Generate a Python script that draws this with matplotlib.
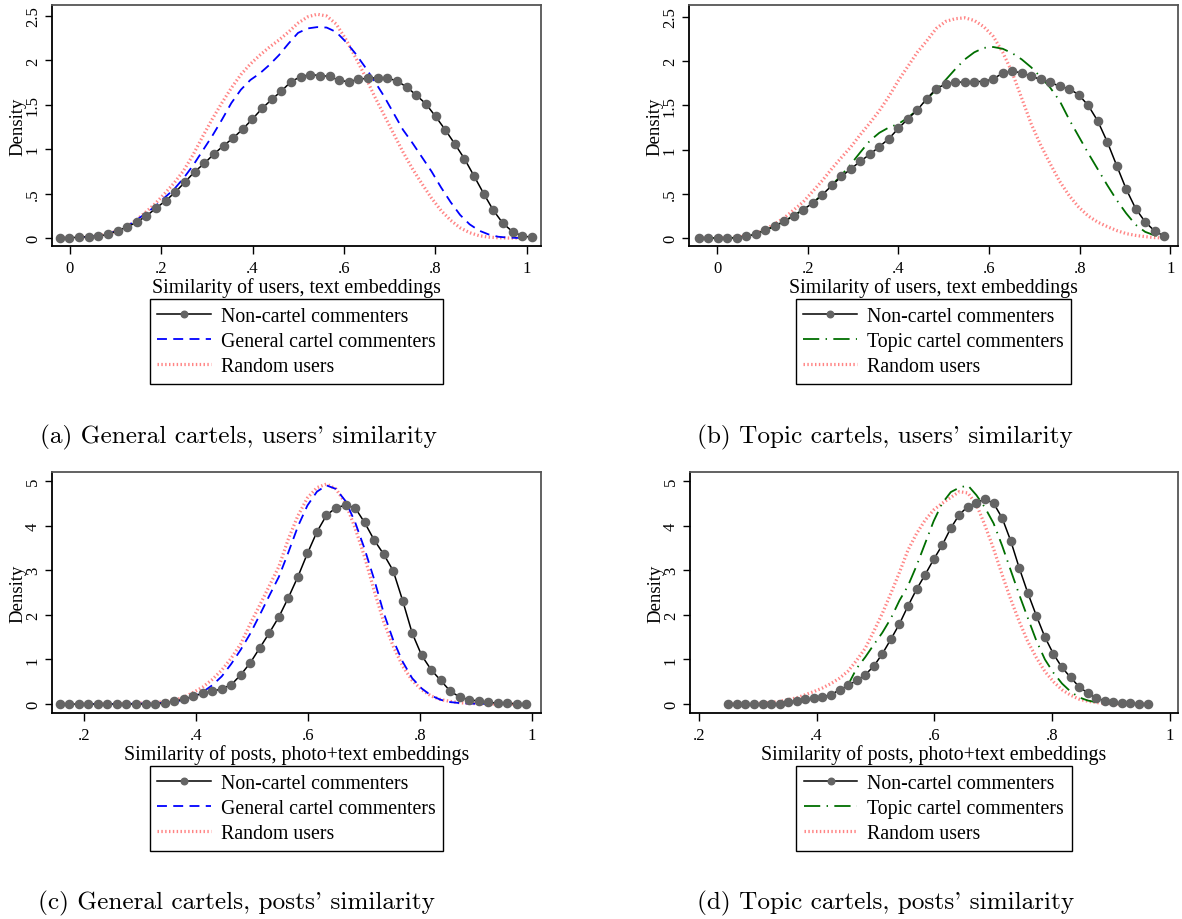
import numpy as np
import matplotlib
matplotlib.use("Agg")
import matplotlib.pyplot as plt

plt.rcParams['font.family'] = ['Liberation Serif', 'DejaVu Serif']

# kernel density values, 50 evaluation points each
a_x_non = (-0.022, 1.011)
a_x_oth = (-0.022, 1.0)
a_noncartel = [0, 0.004, 0.008, 0.015, 0.023, 0.04, 0.083, 0.124, 0.18, 0.248,
               0.338, 0.42, 0.518, 0.63, 0.747, 0.84, 0.946, 1.04, 1.126, 1.228,
               1.34, 1.46, 1.56, 1.655, 1.76, 1.817, 1.84, 1.83, 1.82, 1.775,
               1.76, 1.787, 1.80, 1.805, 1.80, 1.77, 1.70, 1.61, 1.51, 1.37,
               1.22, 1.06, 0.893, 0.698, 0.50, 0.312, 0.165, 0.071, 0.023, 0.008]
a_general = [0, 0.003, 0.008, 0.015, 0.025, 0.045, 0.08, 0.125, 0.2, 0.275,
             0.355, 0.455, 0.55, 0.675, 0.82, 0.985, 1.15, 1.33, 1.52, 1.67,
             1.78, 1.855, 1.95, 2.06, 2.19, 2.31, 2.36, 2.375, 2.37, 2.32,
             2.21, 2.08, 1.93, 1.77, 1.60, 1.41, 1.22, 1.07, 0.91, 0.75,
             0.57, 0.405, 0.26, 0.154, 0.083, 0.04, 0.014, 0.005, 0.001, 0]
a_random = [0, 0.003, 0.008, 0.015, 0.025, 0.045, 0.08, 0.125, 0.2, 0.29,
            0.385, 0.50, 0.62, 0.76, 0.94, 1.145, 1.34, 1.52, 1.69, 1.84,
            1.96, 2.06, 2.15, 2.23, 2.32, 2.42, 2.49, 2.52, 2.50, 2.41,
            2.24, 2.04, 1.83, 1.60, 1.39, 1.18, 0.97, 0.78, 0.61, 0.45,
            0.31, 0.20, 0.115, 0.06, 0.026, 0.01, 0.003, 0, 0, 0]

b_x = (-0.04, 0.986)
b_noncartel = [0, 0, 0, 0, 0.004, 0.019, 0.045, 0.09, 0.135, 0.19,
               0.254, 0.322, 0.397, 0.49, 0.595, 0.696, 0.782, 0.868, 0.947, 1.033,
               1.123, 1.239, 1.347, 1.448, 1.576, 1.688, 1.744, 1.763, 1.763, 1.77,
               1.77, 1.80, 1.864, 1.886, 1.868, 1.83, 1.793, 1.763, 1.714, 1.688,
               1.62, 1.50, 1.325, 1.09, 0.82, 0.554, 0.333, 0.183, 0.079, 0.022]
b_topic = [0, 0, 0, 0.001, 0.004, 0.019, 0.045, 0.09, 0.135, 0.19,
           0.254, 0.322, 0.40, 0.49, 0.60, 0.71, 0.835, 0.97, 1.10, 1.19,
           1.25, 1.29, 1.36, 1.45, 1.57, 1.68, 1.79, 1.91, 2.02, 2.10,
           2.15, 2.16, 2.14, 2.09, 2.02, 1.93, 1.82, 1.70, 1.55, 1.34,
           1.15, 0.96, 0.78, 0.60, 0.43, 0.28, 0.15, 0.07, 0.03, 0.012]
b_random = [0, 0, 0.002, 0.006, 0.012, 0.02, 0.045, 0.1, 0.16, 0.23,
            0.32, 0.41, 0.53, 0.65, 0.785, 0.91, 1.03, 1.17, 1.30, 1.44,
            1.60, 1.78, 1.94, 2.10, 2.23, 2.37, 2.45, 2.48, 2.49, 2.46,
            2.39, 2.28, 2.10, 1.87, 1.58, 1.29, 1.05, 0.84, 0.64, 0.48,
            0.35, 0.25, 0.18, 0.13, 0.085, 0.05, 0.03, 0.016, 0.005, 0]

c_x = (0.157, 0.99)
c_noncartel = [0, 0, 0, 0, 0, 0, 0, 0, 0, 0,
               0.007, 0.015, 0.067, 0.104, 0.179, 0.238, 0.283, 0.343, 0.432, 0.656,
               0.924, 1.26, 1.595, 1.952, 2.385, 2.854, 3.375, 3.86, 4.23, 4.40,
               4.456, 4.40, 4.07, 3.68, 3.36, 2.99, 2.32, 1.59, 1.09, 0.767,
               0.529, 0.29, 0.156, 0.097, 0.067, 0.037, 0.022, 0.015, 0.007, 0.007]
c_general = [0, 0, 0, 0, 0, 0.002, 0.004, 0.006, 0.009, 0.013,
             0.02, 0.03, 0.055, 0.09, 0.16, 0.27, 0.42, 0.62, 0.90, 1.22,
             1.58, 2.0, 2.43, 2.85, 3.40, 3.98, 4.45, 4.76, 4.90, 4.82,
             4.55, 4.08, 3.48, 2.80, 2.05, 1.44, 0.95, 0.58, 0.35, 0.19,
             0.095, 0.045, 0.022, 0.012, 0.007, 0.004, 0.002, 0.001, 0, 0]
c_random = [0, 0, 0, 0, 0.002, 0.004, 0.007, 0.012, 0.018, 0.026,
            0.037, 0.055, 0.085, 0.15, 0.26, 0.38, 0.55, 0.76, 1.03, 1.35,
            1.80, 2.22, 2.65, 3.08, 3.70, 4.22, 4.62, 4.85, 4.93, 4.82,
            4.50, 3.95, 3.30, 2.55, 1.85, 1.30, 0.85, 0.53, 0.32, 0.18,
            0.10, 0.06, 0.03, 0.015, 0.007, 0.003, 0.001, 0, 0, 0]

d_x = (0.25, 0.962)
d_noncartel = [0, 0, 0, 0, 0, 0, 0.007, 0.045, 0.075, 0.104,
               0.134, 0.156, 0.209, 0.32, 0.417, 0.529, 0.656, 0.849, 1.125, 1.453,
               1.796, 2.198, 2.571, 2.899, 3.241, 3.562, 3.942, 4.247, 4.426, 4.516,
               4.59, 4.50, 4.17, 3.66, 3.05, 2.49, 1.98, 1.50, 1.12, 0.82,
               0.596, 0.387, 0.246, 0.134, 0.075, 0.037, 0.022, 0.015, 0.007, 0.007]
d_topic = [0, 0, 0, 0, 0.002, 0.006, 0.015, 0.03, 0.055, 0.09,
           0.12, 0.145, 0.19, 0.28, 0.43, 0.80, 1.05, 1.33, 1.60, 1.92,
           2.32, 2.65, 3.1, 3.6, 4.1, 4.5, 4.75, 4.85, 4.9, 4.68,
           4.40, 4.05, 3.55, 3.00, 2.45, 1.93, 1.42, 1.00, 0.70, 0.46,
           0.28, 0.15, 0.08, 0.04, 0.02, 0.01, 0.005, 0.002, 0, 0]
d_random = [0, 0.002, 0.005, 0.01, 0.02, 0.035, 0.06, 0.1, 0.14, 0.21,
            0.28, 0.36, 0.46, 0.58, 0.74, 0.98, 1.25, 1.63, 2.03, 2.48,
            2.95, 3.45, 3.82, 4.12, 4.35, 4.50, 4.63, 4.76, 4.73, 4.47,
            4.00, 3.48, 2.90, 2.35, 1.85, 1.40, 1.04, 0.73, 0.50, 0.32,
            0.20, 0.11, 0.065, 0.035, 0.018, 0.008, 0.003, 0.001, 0, 0]

lab_non = 'Non-cartel commenters'
lab_gen = 'General cartel commenters'
lab_top = 'Topic cartel commenters'
lab_rnd = 'Random users'

xlab_users = 'Similarity of users, text embeddings'
xlab_posts = 'Similarity of posts, photo+text embeddings'

users_xticks = [0, 0.2, 0.4, 0.6, 0.8, 1]
users_xticklabels = ['0', '.2', '.4', '.6', '.8', '1']
users_yticks = [0, 0.5, 1, 1.5, 2, 2.5]
users_yticklabels = ['0', '.5', '1', '1.5', '2', '2.5']
posts_xticks = [0.2, 0.4, 0.6, 0.8, 1]
posts_xticklabels = ['.2', '.4', '.6', '.8', '1']
posts_yticks = [0, 1, 2, 3, 4, 5]
posts_yticklabels = ['0', '1', '2', '3', '4', '5']

# cmr10 keeps the TeX layout: the ASCII quote slot holds the closing quote glyph
captions = ["(a) General cartels, users' similarity",
            "(b) Topic cartels, users' similarity",
            "(c) General cartels, posts' similarity",
            "(d) Topic cartels, posts' similarity"]

W, H = 1182, 920
fig = plt.figure(figsize=(W / 100, H / 100), dpi=100)

def px_rect(l, t, r, b):
    return [l / W, 1 - b / H, (r - l) / W, (b - t) / H]

style_non = dict(color='black', lw=1.1, marker='o', ms=5.9, mfc='#646464',
                 mec='#646464', zorder=4)
style_gen = dict(color='#0000ff', lw=1.3, dashes=(5.5, 3.5), zorder=3)
style_top = dict(color='#006e00', lw=1.3, dashes=(9, 3.5, 0.8, 3.5), zorder=3)
style_rnd = dict(color='#ff8585', lw=2.3, dashes=(0.45, 0.75), zorder=2)

panels = [
    dict(rect=px_rect(52, 6, 541, 247), xlim=(-0.039, 1.031), ylim=(-0.09, 2.624),
         xt=users_xticks, xtl=users_xticklabels, yt=users_yticks, ytl=users_yticklabels,
         xlabel=xlab_users,
         lines=[(a_x_non, a_noncartel, lab_non, style_non),
                (a_x_oth, a_general, lab_gen, style_gen),
                (a_x_oth, a_random, lab_rnd, style_rnd)],
         cap=(40, 437)),
    dict(rect=px_rect(689, 6, 1178, 247), xlim=(-0.062, 1.0166), ylim=(-0.09, 2.635),
         xt=users_xticks, xtl=users_xticklabels, yt=users_yticks, ytl=users_yticklabels,
         xlabel=xlab_users,
         lines=[(b_x, b_noncartel, lab_non, style_non),
                (b_x, b_topic, lab_top, style_top),
                (b_x, b_random, lab_rnd, style_rnd)],
         cap=(697, 437)),
    dict(rect=px_rect(52, 473, 541, 714), xlim=(0.143, 1.016), ylim=(-0.2, 5.2),
         xt=posts_xticks, xtl=posts_xticklabels, yt=posts_yticks, ytl=posts_yticklabels,
         xlabel=xlab_posts,
         lines=[(c_x, c_noncartel, lab_non, style_non),
                (c_x, c_general, lab_gen, style_gen),
                (c_x, c_random, lab_rnd, style_rnd)],
         cap=(38, 903)),
    dict(rect=px_rect(690, 473, 1178, 714), xlim=(0.185, 1.0136), ylim=(-0.2, 5.2),
         xt=posts_xticks, xtl=posts_xticklabels, yt=posts_yticks, ytl=posts_yticklabels,
         xlabel=xlab_posts,
         lines=[(d_x, d_noncartel, lab_non, style_non),
                (d_x, d_topic, lab_top, style_top),
                (d_x, d_random, lab_rnd, style_rnd)],
         cap=(697, 903)),
]

for p, cap in zip(panels, captions):
    ax = fig.add_axes(p['rect'])
    for (x0, x1), y, lab, st in p['lines']:
        x = np.linspace(x0, x1, len(y))
        ax.plot(x, y, label=lab, **st)
    ax.set_xlim(*p['xlim'])
    ax.set_ylim(*p['ylim'])
    ax.set_xticks(p['xt'])
    ax.set_xticklabels(p['xtl'], fontsize=12)
    ax.set_yticks(p['yt'])
    ax.set_yticklabels(p['ytl'], fontsize=12, rotation=90, va='center')
    ax.tick_params(direction='out', length=5, width=1, pad=3)
    ax.tick_params(axis='x', length=6, pad=4)
    ax.set_ylabel('Density', fontsize=13.5)
    ax.yaxis.set_label_coords(-26 / 489, 0.5)
    ax.set_xlabel(p['xlabel'], fontsize=14.3, labelpad=1)
    for s in ['left', 'bottom']:
        ax.spines[s].set_color('black')
        ax.spines[s].set_linewidth(1.3)
    for s in ['top', 'right']:
        ax.spines[s].set_color('#555555')
        ax.spines[s].set_linewidth(1.3)
    leg = ax.legend(loc='upper center', bbox_to_anchor=(0.5, -0.22), fontsize=14.3,
                    handlelength=2.7, handletextpad=0.5, labelspacing=0.32,
                    borderpad=0.38, numpoints=1, markerscale=0.8,
                    fancybox=False, framealpha=1, edgecolor='black', borderaxespad=0)
    leg.get_frame().set_linewidth(1.0)
    fig.text(p['cap'][0] / W, 1 - p['cap'][1] / H, cap, fontfamily='cmr10',
             fontsize=18.2, ha='left', va='center')

fig.savefig('out.png', dpi=100)
